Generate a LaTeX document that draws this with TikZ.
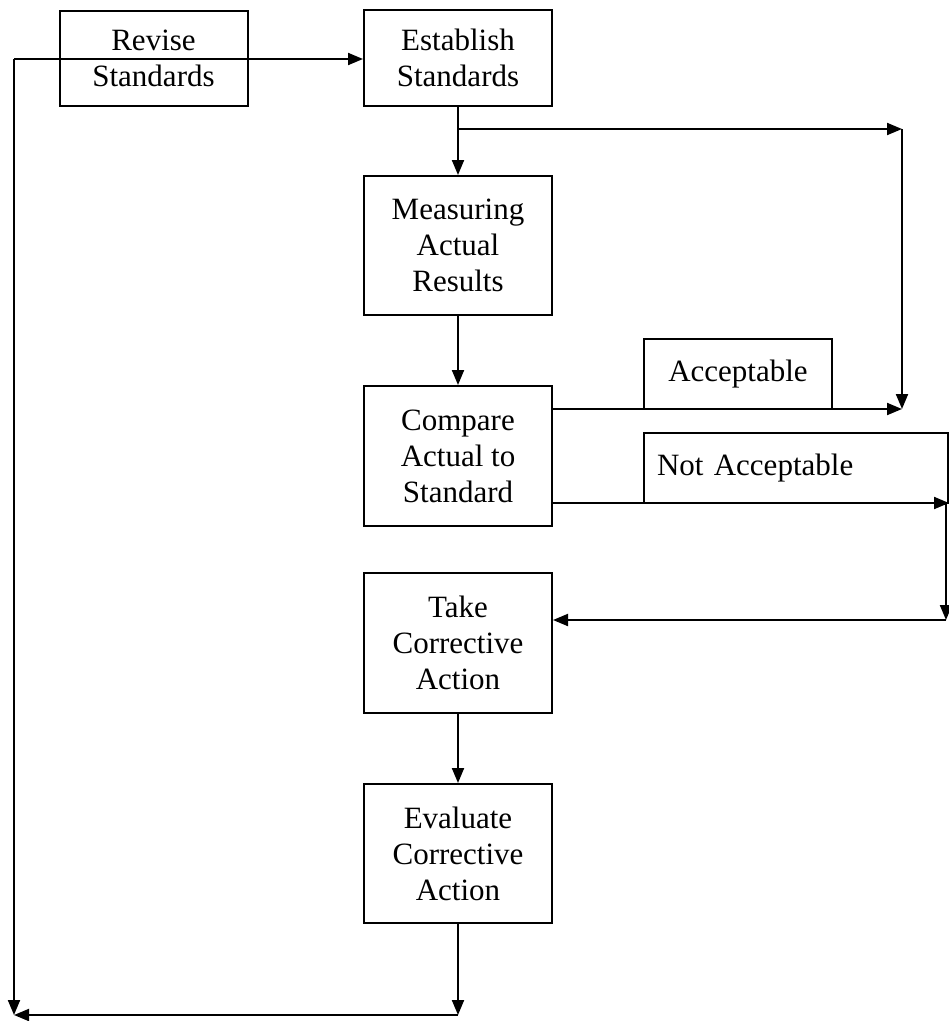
\documentclass[tikz,border=0pt]{standalone}
\usepackage{fontspec}
\setmainfont{Liberation Serif}
\usetikzlibrary{arrows.meta}

\begin{document}
\begin{tikzpicture}[x=1pt, y=-1pt, line width=2pt,
        >={Triangle[length=15pt, width=12pt]},
        stepbox/.style={draw, minimum width=188pt, inner sep=0pt, align=center,
            font=\fontsize{31}{36}\selectfont},
        tagbox/.style={draw, minimum height=70pt, inner sep=0pt,
            font=\fontsize{31}{36}\selectfont}]
            \useasboundingbox (0,0) rectangle (949,1021);

            \node[stepbox, minimum height=95pt] (revise) at (153.5,58.5) {Revise\\Standards};
            \node[stepbox, minimum height=96pt] (establish) at (458,58) {Establish\\Standards};
            \node[stepbox, minimum height=139pt] (measure) at (458,245.5) {Measuring\\Actual\\Results};
            \node[stepbox, minimum height=140pt] (compare) at (458,456) {Compare\\Actual to\\Standard};
            \node[stepbox, minimum height=140pt] (take) at (458,643) {Take\\Corrective\\Action};
            \node[stepbox, minimum height=139pt] (evaluate) at (458,853.5) {Evaluate\\Corrective\\Action};

            \node[tagbox, minimum width=188pt] (ok) at (738,374) {Acceptable};
            \node[tagbox, text width=278pt, inner xsep=13pt, align=left] (notok) at (796,468) {Not Acceptable};

            \coordinate (topleft) at (14,59);
            \coordinate (botleft) at (14,1015);
            \coordinate (botright) at (458,1015);
            \coordinate (split) at (458,129);
            \coordinate (okcorner) at (902,129);
            \coordinate (okend) at (902,409);
            \coordinate (nocorner) at (946,503);
            \coordinate (noturn) at (946,620);

            \draw[->] (topleft) -- (establish.west |- topleft);
            \draw[->] (topleft) -- (botleft);
            \draw[->] (evaluate) -- (botright);
            \draw[->] (botright) -- (botleft);

            \draw[->] (establish) -- (measure);
            \draw[->] (split) -- (okcorner);
            \draw[->] (okcorner) -- (okend);
            \draw[->] (measure) -- (compare);
            \draw[->] (compare.east |- okend) -- (okend);
            \draw[->] (compare.east |- nocorner) -- (nocorner -| notok.east);
            \draw[->] (nocorner) -- (noturn);
            \draw[->] (noturn) -- (take.east |- noturn);
            \draw[->] (take) -- (evaluate);
        \end{tikzpicture}
\end{document}
